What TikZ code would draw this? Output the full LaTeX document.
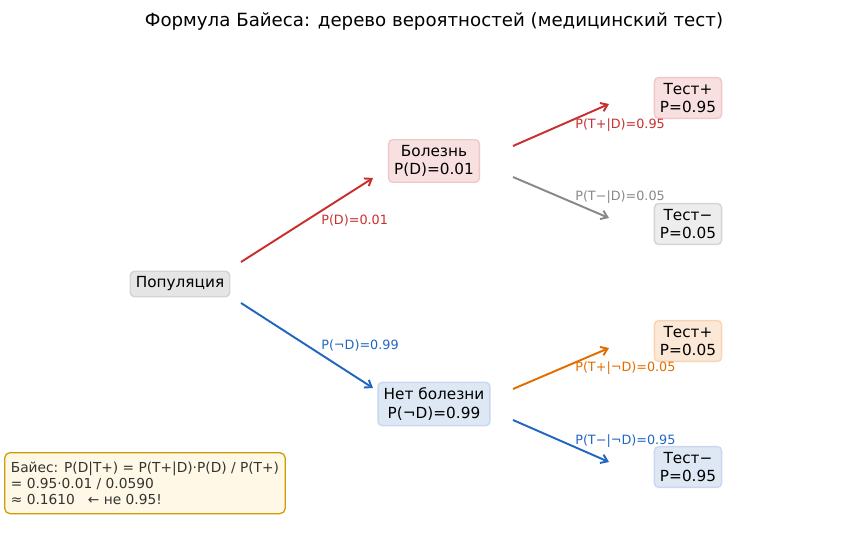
\documentclass[tikz,border=0pt]{standalone}
\usepackage{fontspec}
\setmainfont{DejaVu Sans}
\usetikzlibrary{arrows.meta}
\definecolor{redline}{RGB}{200,48,48}
\definecolor{blueline}{RGB}{34,102,192}
\definecolor{orangeline}{RGB}{226,110,0}
\definecolor{grayline}{RGB}{136,136,136}
\definecolor{redfill}{RGB}{248,224,224}
\definecolor{rededge}{RGB}{240,200,200}
\definecolor{grayfill}{RGB}{229,229,229}
\definecolor{grayedge}{RGB}{212,212,212}
\definecolor{lgrayfill}{RGB}{237,237,237}
\definecolor{bluefill}{RGB}{222,232,244}
\definecolor{blueedge}{RGB}{200,216,238}
\definecolor{orangefill}{RGB}{252,232,214}
\definecolor{orangeedge}{RGB}{246,212,180}
\definecolor{notefill}{RGB}{255,248,230}
\definecolor{noteedge}{RGB}{204,156,0}

\begin{document}
\begin{tikzpicture}[
  x=0.72pt,y=0.72pt,
  box/.style={rectangle,rounded corners=3pt,line width=1pt,inner sep=4pt,align=center,font=\fontsize{11}{13.2}\selectfont},
  branch/.style={-{Straight Barb[length=4.5pt,width=6.5pt]},line width=1.4pt},
  prob/.style={anchor=west,inner sep=0pt,xshift=9.6pt,font=\fontsize{9.2}{11}\selectfont}
]
  \useasboundingbox (0,0) rectangle (868,537);

  \node[font=\fontsize{13.1}{15.7}\selectfont] (title) at (434,516) {Формула Байеса: дерево вероятностей (медицинский тест)};

  % tree levels
  \node[box,draw=grayedge,fill=grayfill] (pop) at (180,253) {Популяция};
  \node[box,draw=rededge,fill=redfill] (dis) at (434,376) {Болезнь\\P(D)=0.01};
  \node[box,draw=blueedge,fill=bluefill] (nodis) at (434,133) {Нет болезни\\P(¬D)=0.99};
  \node[box,draw=rededge,fill=redfill] (tpos1) at (688,439) {Тест+\\P=0.95};
  \node[box,draw=grayedge,fill=lgrayfill] (tneg1) at (688,313) {Тест−\\P=0.05};
  \node[box,draw=orangeedge,fill=orangefill] (tpos2) at (688,196) {Тест+\\P=0.05};
  \node[box,draw=blueedge,fill=bluefill] (tneg2) at (688,70) {Тест−\\P=0.95};

  \draw[branch,redline] ([shift={(61,22)}]pop.center) -- node[prob,text=redline] {P(D)=0.01} ([shift={(-61,-17)}]dis.center);
  \draw[branch,blueline] ([shift={(61,-19)}]pop.center) -- node[prob,text=blueline] {P(¬D)=0.99} ([shift={(-61,16)}]nodis.center);
  \draw[branch,redline] ([shift={(79,15)}]dis.center) -- node[prob,text=redline] {P(T+|D)=0.95} ([shift={(-79,-6)}]tpos1.center);
  \draw[branch,grayline] ([shift={(79,-16)}]dis.center) -- node[prob,text=grayline] {P(T−|D)=0.05} ([shift={(-79,6)}]tneg1.center);
  \draw[branch,orangeline] ([shift={(79,15)}]nodis.center) -- node[prob,text=orangeline] {P(T+|¬D)=0.05} ([shift={(-79,-7)}]tpos2.center);
  \draw[branch,blueline] ([shift={(79,-16)}]nodis.center) -- node[prob,text=blueline] {P(T−|¬D)=0.95} ([shift={(-79,5)}]tneg2.center);

  % result
  \node[rectangle,rounded corners=4pt,draw=noteedge,fill=notefill,line width=0.9pt,align=left,
        anchor=north west,minimum width=202pt,minimum height=44pt,inner sep=4.5pt,text=black!80,
        font=\fontsize{9.9}{11.5}\selectfont] (note) at (4,85)
        {Байес: P(D|T+) = P(T+|D)·P(D) / P(T+)\\= 0.95·0.01 / 0.0590\\≈ 0.1610 \ \ ← не 0.95!};
\end{tikzpicture}
\end{document}
